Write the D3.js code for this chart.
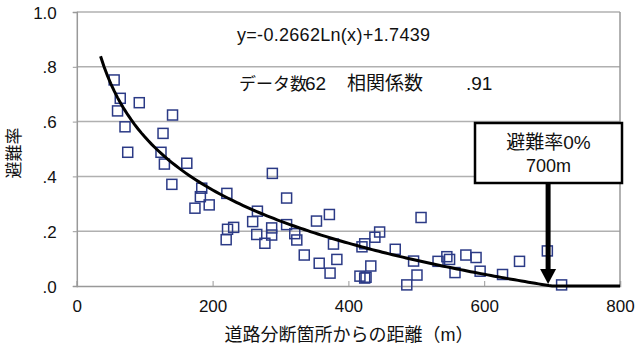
<!DOCTYPE html>
<html><head><meta charset="utf-8">
<script src="https://cdn.jsdelivr.net/npm/d3@7"></script>
<style>
html,body{margin:0;padding:0;background:#fff;}
svg text{font-family:"Liberation Sans","Noto Sans CJK JP",sans-serif;fill:#111;}
</style></head>
<body><svg id="c" width="640" height="353"></svg>
<script>
// Data
const distance = [55,64,60,92,141,71,127,75,124,129,162,140,184,182,195,174,221,222,231,220,259,266,265,277,288,287,287,309,309,321,324,335,353,357,372,373,378,383,420,424,439,446,433,417,424,469,496,507,501,486,532,545,549,557,573,588,594,627,652,693,714,426];
const rate     = [.752,.685,.639,.669,.624,.581,.557,.488,.488,.445,.448,.371,.357,.326,.296,.284,.338,.207,.214,.169,.235,.273,.188,.156,.411,.212,.186,.321,.224,.191,.168,.113,.237,.083,.261,.047,.153,.097,.143,.154,.178,.197,.073,.036,.029,.134,.091,.250,.040,.004,.090,.107,.097,.049,.113,.104,.054,.042,.090,.128,.004,.032];
const xTicks = [0,200,400,600,800];
const yTicks = [0,0.2,0.4,0.6,0.8,1.0];
const yTickLabels = [".0",".2",".4",".6",".8","1.0"];
const trendSlope = -0.28, trendIntercept = 1.834; // curve as drawn in picture
const trendStart = 35, trendZero = 700, trendEnd = 800;
const equationText = "y=-0.2662Ln(x)+1.7439";
const statsParts = ["データ数","62","相関係数",".91"];
const calloutLines = ["避難率0%","700m"];
const calloutX = 700;

const svg = d3.select("#c");
const L=76.8, R=620, T=12, B=286;
const x = d3.scaleLinear().domain([0,800]).range([L,R]);
const y = d3.scaleLinear().domain([0,1]).range([B,T]);

// gridlines
svg.append("g").selectAll("line").data(yTicks.filter(d=>d>0)).join("line")
  .attr("x1",L).attr("x2",R).attr("y1",d=>y(d)).attr("y2",d=>y(d))
  .attr("stroke","#b0b0b0").attr("stroke-width",1.5);
// right border
svg.append("line").attr("x1",R).attr("x2",R).attr("y1",T).attr("y2",B).attr("stroke","#999").attr("stroke-width",1.5);

// y axis
const yAxis = d3.axisLeft(y).tickValues(yTicks).tickSize(4).tickFormat((d,i)=>yTickLabels[i]);
const gy = svg.append("g").attr("transform",`translate(${L},0)`).call(yAxis);
gy.select(".domain").attr("stroke","#999").attr("stroke-width",1.5);
gy.selectAll(".tick line").attr("stroke","#999");
gy.selectAll("text").attr("font-size",17).attr("x",-20).attr("dy","0.36em").attr("fill","#111");

// x axis
const xAxis = d3.axisBottom(x).tickValues(xTicks).tickSize(-5).tickPadding(14);
const gx = svg.append("g").attr("transform",`translate(0,${B})`).call(xAxis);
gx.select(".domain").attr("stroke","#999").attr("stroke-width",1.5);
gx.selectAll(".tick line").attr("stroke","#999");
gx.selectAll("text").attr("font-size",17).attr("fill","#111");

// axis titles
svg.append("text").attr("transform","translate(20,153) rotate(-90)").attr("text-anchor","middle")
  .attr("font-size",17).text("避難率");
svg.append("text").attr("x",349).attr("y",341).attr("text-anchor","middle")
  .attr("font-size",18).text("道路分断箇所からの距離（m）");

// points
svg.append("g").selectAll("rect").data(distance.map((d,i)=>[d,rate[i]])).join("rect")
  .attr("x",d=>x(d[0])-5).attr("y",d=>y(d[1])-5).attr("width",10).attr("height",10)
  .attr("fill","none").attr("stroke","#2b3a86").attr("stroke-width",1.5);

// trend curve
const samples = d3.range(trendStart, trendZero+1, 5);
const curvePts = samples.map(v=>[v, Math.max(0,trendSlope*Math.log(v)+trendIntercept)]);
curvePts.push([trendEnd,0]);
svg.append("path").datum(curvePts)
  .attr("d", d3.line().x(d=>x(d[0])).y(d=>y(d[1])))
  .attr("fill","none").attr("stroke","#000").attr("stroke-width",3);

// equation texts
svg.append("text").attr("x",237).attr("y",41).attr("font-size",18)
  .attr("textLength",193).attr("lengthAdjust","spacing").text(equationText);
const st = svg.append("text").attr("y",90);
const partX = [239,305,347,466];
const partSize = [17,19,19,19];
statsParts.forEach((p,i)=>st.append("tspan").attr("x",partX[i])
  .attr("font-size", partSize[i]).text(p));

// callout
const bx=475, by=123, bw=147, bh=60;
svg.append("rect").attr("x",bx).attr("y",by).attr("width",bw).attr("height",bh)
  .attr("fill","#fff").attr("stroke","#000").attr("stroke-width",2.5);
svg.append("text").attr("x",bx+bw/2).attr("y",by+26).attr("text-anchor","middle").attr("font-size",19).text(calloutLines[0]);
svg.append("text").attr("x",bx+bw/2).attr("y",by+49).attr("text-anchor","middle").attr("font-size",18).text(calloutLines[1]);
const ax = x(calloutX)-4, tipY = y(0)-2;
svg.append("line").attr("x1",ax).attr("x2",ax).attr("y1",by+bh).attr("y2",tipY-14)
  .attr("stroke","#000").attr("stroke-width",5);
svg.append("path").attr("d",`M${ax-8},${tipY-15}L${ax+8},${tipY-15}L${ax},${tipY}Z`).attr("fill","#000");
</script></body></html>
